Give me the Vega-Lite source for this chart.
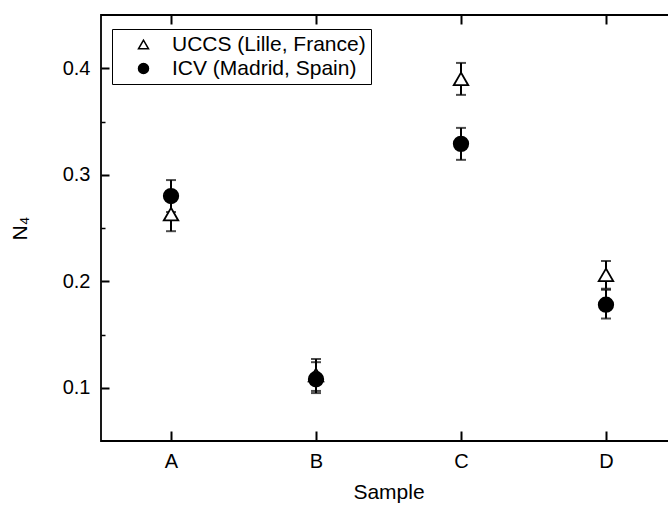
{
  "$schema": "https://vega.github.io/schema/vega-lite/v6.json",
  "autosize": {"type": "none"},
  "padding": {"left": 101, "top": 15, "right": 0, "bottom": 65},
  "width": 575,
  "height": 426,
  "config": {
    "font": "Liberation Sans",
    "view": {"stroke": "black", "strokeWidth": 1.8},
    "axis": {"domain": false, "grid": false, "tickColor": "black", "labelColor": "black", "titleColor": "black", "labelFont": "Liberation Sans", "titleFont": "Liberation Sans"}
  },
  "data": {
    "values": [
      {"sample": "A", "lab": "UCCS (Lille, France)", "n4": 0.263, "low": 0.247, "high": 0.279},
      {"sample": "B", "lab": "UCCS (Lille, France)", "n4": 0.112, "low": 0.097, "high": 0.127},
      {"sample": "C", "lab": "UCCS (Lille, France)", "n4": 0.390, "low": 0.375, "high": 0.405},
      {"sample": "D", "lab": "UCCS (Lille, France)", "n4": 0.206, "low": 0.193, "high": 0.219},
      {"sample": "A", "lab": "ICV (Madrid, Spain)", "n4": 0.280, "low": 0.265, "high": 0.295},
      {"sample": "B", "lab": "ICV (Madrid, Spain)", "n4": 0.108, "low": 0.095, "high": 0.124},
      {"sample": "C", "lab": "ICV (Madrid, Spain)", "n4": 0.329, "low": 0.314, "high": 0.344},
      {"sample": "D", "lab": "ICV (Madrid, Spain)", "n4": 0.178, "low": 0.165, "high": 0.192}
    ]
  },
  "layer": [
    {
      "mark": {"type": "rule", "strokeWidth": 2, "color": "black"},
      "encoding": {
        "x": {"field": "sample", "type": "ordinal", "scale": {"type": "point", "padding": 0.483},
          "axis": {"orient": "bottom", "title": "Sample", "labelFontSize": 20, "labelAngle": 0, "tickSize": -10, "tickWidth": 2, "labelPadding": 20, "titleFontSize": 21, "titleFontWeight": "normal", "titlePadding": 10}},
        "y": {"field": "low", "type": "quantitative", "scale": {"domain": [0.05, 0.45], "nice": false, "zero": false},
          "axis": {"orient": "left", "values": [0.1, 0.2, 0.3, 0.4], "format": ".1f", "title": "N₄", "labelFontSize": 20, "tickSize": -8, "tickWidth": 2, "labelPadding": 19, "titleFontSize": 21, "titleFontWeight": "normal", "titlePadding": 32}},
        "y2": {"field": "high"}
      }
    },
    {
      "mark": {"type": "tick", "color": "black", "size": 10, "thickness": 2},
      "encoding": {
        "x": {"field": "sample", "type": "ordinal", "scale": {"type": "point", "padding": 0.483},
          "axis": {"orient": "top", "labels": false, "title": null, "tickSize": -9, "tickWidth": 2}},
        "y": {"field": "low", "type": "quantitative",
          "axis": {"orient": "right", "values": [0.1, 0.2, 0.3, 0.4], "labels": false, "title": null, "tickSize": -8, "tickWidth": 2}}
      }
    },
    {
      "mark": {"type": "tick", "color": "black", "size": 10, "thickness": 2},
      "encoding": {
        "x": {"field": "sample", "type": "ordinal", "scale": {"type": "point", "padding": 0.483}, "axis": null},
        "y": {"field": "high", "type": "quantitative",
          "axis": {"orient": "left", "values": [0.15, 0.25, 0.35], "labels": false, "title": null, "tickSize": -4, "tickWidth": 1.5}}
      }
    },
    {
      "mark": {"type": "point", "filled": true, "size": 210, "stroke": "black", "strokeWidth": 1.8, "opacity": 1},
      "encoding": {
        "x": {"field": "sample", "type": "ordinal", "scale": {"type": "point", "padding": 0.483}, "axis": null},
        "y": {"field": "n4", "type": "quantitative", "axis": null},
        "shape": {"field": "lab", "type": "nominal",
          "scale": {"domain": ["UCCS (Lille, France)", "ICV (Madrid, Spain)"], "range": ["triangle-up", "circle"]},
          "legend": {"title": null, "orient": "none", "legendX": 11, "legendY": 14, "strokeColor": "black", "padding": 5, "symbolOffset": 16, "labelOffset": 18, "labelFontSize": 21, "labelColor": "black", "labelLimit": 400, "symbolSize": 100, "rowPadding": 2,
            "encode": {"legend": {"update": {"strokeWidth": {"value": 1.5}}}, "symbols": {"update": {"fill": {"scale": "fill", "field": "value"}, "stroke": {"value": "black"}, "strokeWidth": {"value": 1.8}, "opacity": {"value": 1}}}}}},
        "fill": {"field": "lab", "type": "nominal",
          "scale": {"domain": ["UCCS (Lille, France)", "ICV (Madrid, Spain)"], "range": ["white", "black"]},
          "legend": null}
      }
    }
  ],
  "resolve": {"axis": {"x": "independent", "y": "independent"}}
}
